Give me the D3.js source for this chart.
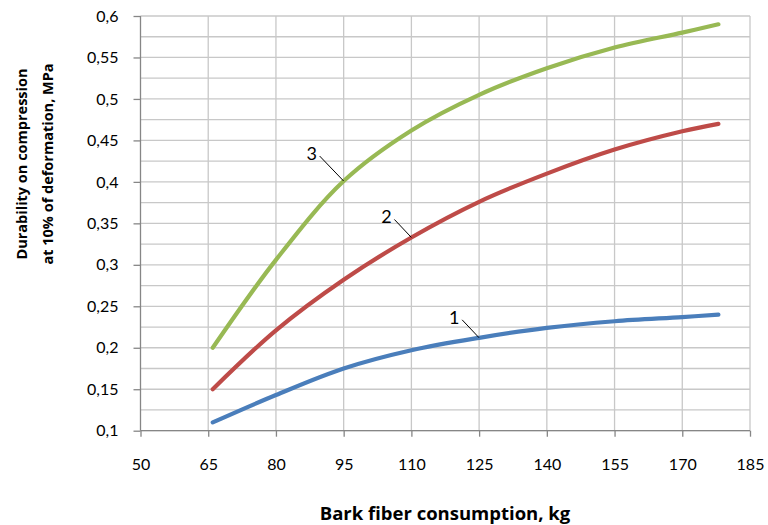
<!DOCTYPE html>
<html><head><meta charset="utf-8">
<script src="https://cdn.jsdelivr.net/npm/d3@7"></script>
<style>body{margin:0;background:#fff}svg{display:block}</style>
</head><body><svg id="c" width="768" height="525"></svg>
<script>
const xTicks = [50,65,80,95,110,125,140,155,170,185];
const yTicks = [0.1,0.15,0.2,0.25,0.3,0.35,0.4,0.45,0.5,0.55,0.6];
const xVals = [66,80,95,110,125,140,155,170,178];
const curve1 = [0.11,0.143,0.175,0.197,0.212,0.224,0.232,0.237,0.24];
const curve2 = [0.15,0.221,0.282,0.333,0.376,0.41,0.439,0.461,0.47];
const curve3 = [0.2,0.306,0.401,0.462,0.505,0.537,0.562,0.58,0.59];
const seriesNames = ["1","2","3"];
const colors = ["#4a7ebb","#be4b48","#98b954"];
const labelAt = [125,110,95];

const svg = d3.select("#c");
const x = d3.scaleLinear().domain([50,185]).range([140.5,750]);
const y = d3.scaleLinear().domain([0.1,0.6]).range([430.7,16]);
const font = "Lato, 'Open Sans', sans-serif";
const tfont = "'Open Sans', sans-serif";

// grid
const minor = d3.range(0.1,0.6001,0.025);
svg.append("g").selectAll("line").data(minor).join("line")
  .attr("x1",x(50)).attr("x2",x(185)).attr("y1",d=>y(d)).attr("y2",d=>y(d))
  .attr("stroke","#c8c8c8").attr("stroke-width",1.3);
svg.append("g").selectAll("line").data(xTicks.slice(1)).join("line")
  .attr("x1",d=>x(d)).attr("x2",d=>x(d)).attr("y1",y(0.1)).attr("y2",y(0.6))
  .attr("stroke","#c8c8c8").attr("stroke-width",1.3);

// axes
const xa = svg.append("g").attr("transform",`translate(0,${y(0.1)})`)
  .call(d3.axisBottom(x).tickValues(xTicks).tickSize(6).tickPadding(22).tickFormat(d3.format("d")));
const ya = svg.append("g").attr("transform",`translate(${x(50)},0)`)
  .call(d3.axisLeft(y).tickValues(yTicks).tickSize(7).tickPadding(15).tickFormat(d=>String(+d.toFixed(2)).replace(".",",")));
[xa,ya].forEach(a=>{
  a.selectAll("path,line").attr("stroke","#868686").attr("stroke-width",1.3);
  a.selectAll("text").attr("font-family",font).attr("font-size",16).attr("fill","#000");
  a.select(".domain").attr("d", a===xa ? `M${x(50)},0H${x(185)}` : `M0,${y(0.1)}V${y(0.6)}`);
});

// lines
const data = [curve1,curve2,curve3];
const line = d3.line().x((d,i)=>x(xVals[i])).y(d=>y(d)).curve(d3.curveCatmullRom.alpha(0.5));
svg.append("g").selectAll("path").data(data).join("path")
  .attr("d",line).attr("fill","none").attr("stroke",(d,i)=>colors[i])
  .attr("stroke-width",4.2).attr("stroke-linecap","round");

// labels with leader lines
data.forEach((s,i)=>{
  const xv = labelAt[i];
  const yv = s[xVals.indexOf(xv)];
  const px = x(xv), py = y(yv);
  const dx = i===2?24:17, dy = i===2?25:18;
  svg.append("line").attr("x1",px-dx).attr("y1",py-dy).attr("x2",px).attr("y2",py)
    .attr("stroke","#000").attr("stroke-width",1);
  svg.append("text").attr("x",px-dx-8).attr("y",py-dy+4)
    .attr("text-anchor","middle").attr("font-family",font).attr("font-size",18).text(seriesNames[i]);
});

// titles
svg.append("text").attr("x",445).attr("y",520).attr("text-anchor","middle")
  .attr("font-family",tfont).attr("font-weight","bold").attr("font-size",18.5).text("Bark fiber consumption, kg");
const yt = svg.append("text").attr("transform","translate(27,164) rotate(-90)").attr("text-anchor","middle")
  .attr("font-family",tfont).attr("font-weight","bold").attr("font-size",14.5);
yt.append("tspan").attr("x",0).attr("dy",0).text("Durability on compression");
yt.append("tspan").attr("x",0).attr("dy",26).text("at 10% of deformation, MPa");
</script></body></html>
